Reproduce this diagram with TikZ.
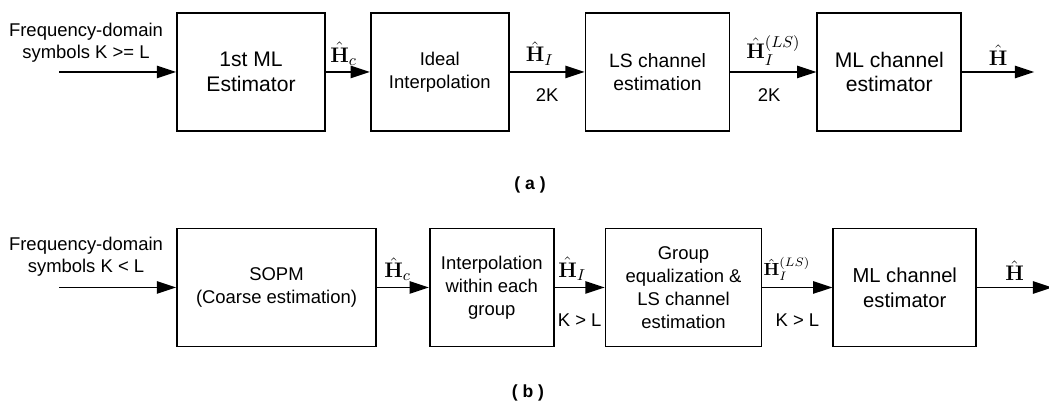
\documentclass[tikz,border=0pt]{standalone}
\usepackage{amsmath}
\usepackage[no-math]{fontspec}
\setmainfont{Liberation Sans}
\usetikzlibrary{arrows.meta,positioning}

\begin{document}
\begin{tikzpicture}[
    > = {Triangle[length=11pt,width=7pt]}, % arrow head style
    line width = 1pt, % line style
    blk/.style = {draw = black, line width = 1pt, minimum height = 2.36cm,
        align = center, inner sep = 2pt, font = \fontsize{10.5}{13}\selectfont},
    lbl/.style = {font = \fontsize{12.5}{14}\selectfont},
    txt/.style = {align = center, font = \fontsize{10.5}{12.5}\selectfont}
    ]
    \useasboundingbox (0,0) rectangle (20.98,8.12);

    % (a) K >= L
    \node[blk, minimum width = 2.96cm, font = \fontsize{12}{14}\selectfont] (mle) at (5.02,6.68) {1st ML\\Estimator};
    \node[blk, minimum width = 2.76cm] (ii) [right=0.88cm of mle] {Ideal\\Interpolation};
    \node[blk, minimum width = 2.88cm, font = \fontsize{11}{13.5}\selectfont] (lsa) [right=1.5cm of ii] {LS channel\\estimation};
    \node[blk, minimum width = 2.88cm, font = \fontsize{12}{14}\selectfont] (mla) [right=1.72cm of lsa] {ML channel\\estimator};
    \coordinate (ina) at ([xshift=-2.34cm]mle.west);
    \coordinate (outa) at ([xshift=1.44cm]mla.east);
    \node[txt] (srca) at (1.72,7.27) {Frequency-domain\\symbols K >= L};
    \node[font = \bfseries\fontsize{10}{12}\selectfont] (capa) at (10.6,4.42) {( a )};

    \draw[->] (ina) -- (mle.west);
    \draw[->] (mle) -- node[lbl, above, pos=0.4]{$\hat{\mathbf{H}}_c$} (ii);
    \draw[->] (ii) -- node[lbl, above, pos=0.4]{$\hat{\mathbf{H}}_I$}
        node[txt, below=0.2cm]{2K} (lsa);
    \draw[->] (lsa) -- node[lbl, above]{$\hat{\mathbf{H}}_I^{(LS)}$}
        node[txt, below=0.2cm, pos=0.45]{2K} (mla);
    \draw[->] (mla) -- node[lbl, above]{$\hat{\mathbf{H}}$} (outa);

    % (b) K < L
    \node[blk, minimum width = 3.98cm] (sopm) at (5.53,2.37) {SOPM\\(Coarse estimation)};
    \node[blk, minimum width = 2.48cm] (iwg) [right=1.04cm of sopm] {Interpolation\\within each\\group};
    \node[blk, minimum width = 3.12cm] (gels) [right=1.0cm of iwg] {Group\\equalization \&\\LS channel\\estimation};
    \node[blk, minimum width = 2.86cm, font = \fontsize{11.5}{14}\selectfont] (mlb) [right=1.4cm of gels] {ML channel\\estimator};
    \coordinate (inb) at ([xshift=-2.34cm]sopm.west);
    \coordinate (outb) at ([xshift=1.5cm]mlb.east);
    \node[txt] (srcb) at (1.72,2.98) {Frequency-domain\\symbols K < L};
    \node[font = \bfseries\fontsize{10}{12}\selectfont] (capb) at (10.56,0.26) {( b )};

    \draw[->] (inb) -- (sopm.west);
    \draw[->] (sopm) -- node[lbl, above, pos=0.4]{$\hat{\mathbf{H}}_c$} (iwg);
    \draw[->] (iwg) -- node[lbl, above, pos=0.35]{$\hat{\mathbf{H}}_I$}
        node[txt, below=0.4cm]{K > L} (gels);
    \draw[->] (gels) -- node[above, pos=0.35, font = \fontsize{10}{12}\selectfont]{$\hat{\mathbf{H}}_I^{(LS)}$}
        node[txt, below=0.4cm]{K > L} (mlb);
    \draw[->] (mlb) -- node[lbl, above]{$\hat{\mathbf{H}}$} (outb);
\end{tikzpicture}
\end{document}
